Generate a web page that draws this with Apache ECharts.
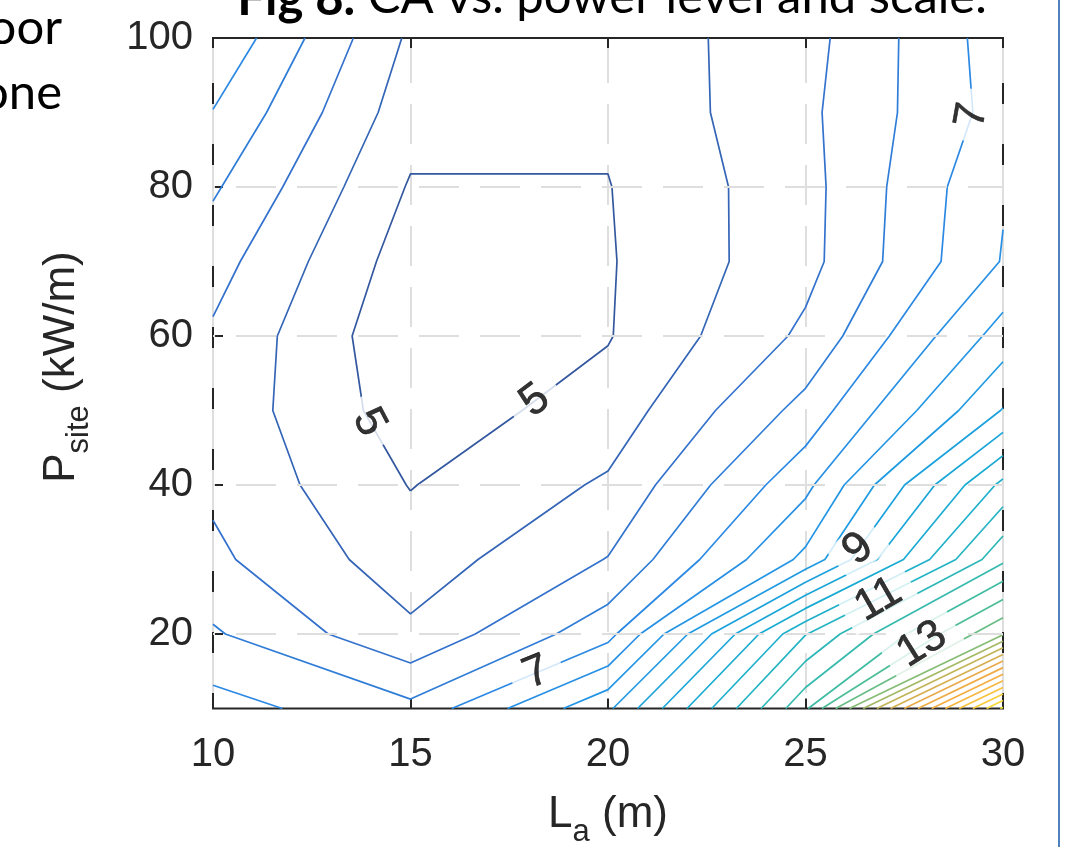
<!DOCTYPE html>
<html>
<head>
<meta charset="utf-8">
<title>CA vs. power level and scale</title>
<script src="https://cdn.jsdelivr.net/npm/echarts@6.0.0/dist/echarts.min.js"></script>
<style>
html,body{margin:0;padding:0;background:#ffffff;}
#chart{width:1071px;height:847px;}
</style>
</head>
<body>
<div id="chart"></div>
<script>
// ---------------- data ----------------
const L_values = [10, 15, 20, 25, 30];                       // L_a (m) grid
const P_values = [10, 20, 30, 40, 50, 60, 70, 80, 90, 100];  // P_site (kW/m) grid
// CA at each grid node, one row per power level, columns follow L_values
const CA_P10  = [7.20, 6.63, 8.40, 12.40, 19.60];
const CA_P20  = [6.56, 5.60, 6.82, 10.98, 13.95];
const CA_P30  = [6.10, 5.23, 6.02, 8.13, 11.90];
const CA_P40  = [5.91, 4.98, 5.57, 7.36, 10.63];
const CA_P50  = [5.83, 4.74, 5.20, 6.67, 9.03];
const CA_P60  = [5.93, 4.61, 4.97, 6.10, 8.22];
const CA_P70  = [6.20, 4.75, 4.96, 5.84, 7.53];
const CA_P80  = [6.57, 4.955, 4.983, 5.83, 7.46];
const CA_P90  = [6.98, 5.21, 5.08, 5.89, 7.20];
const CA_P100 = [7.45, 5.41, 5.17, 5.82, 7.26];
const contourLevels = [5, 5.5, 6, 6.5, 7, 7.5, 8, 8.5, 9, 9.5, 10, 10.5, 11, 11.5, 12,
                       12.5, 13, 13.5, 14, 14.5, 15, 15.5, 16, 16.5, 17, 17.5, 18, 18.5,
                       19, 19.5];
// [level, L, P, rotation] of the inline contour labels
const contourLabels = [
  [5, 13.95, 48.4, -62],
  [5, 18.15, 51.3, 37],
  [7, 29.22, 89.6, 80],
  [7, 18.19, 14.8, 22],
  [9, 26.34, 31.4, 40],
  [11, 26.85, 24.6, 30],
  [13, 27.95, 18.6, 32]
];
const xTicks = [10, 15, 20, 25, 30];
const yTicks = [20, 40, 60, 80, 100];

// ---------------- styling helpers ----------------
const colorStops = [[5,'#34589f'],[6,'#3472cd'],[7,'#2b88e3'],[8,'#2395e5'],[9,'#1ca1dd'],[10,'#19abd2'],
  [11,'#25b4c3'],[12,'#36baae'],[13,'#4bbd98'],[14,'#86bc74'],[15,'#c2b457'],[16,'#e9aa4a'],
  [17,'#f4ae42'],[18,'#f7c23d'],[19,'#f8d839'],[19.5,'#f6e337']];
function hex2rgb(h){ return [parseInt(h.substr(1,2),16), parseInt(h.substr(3,2),16), parseInt(h.substr(5,2),16)]; }
function levelColor(v){
  if (v <= colorStops[0][0]) return colorStops[0][1];
  for (let k = 0; k < colorStops.length - 1; k++) {
    const a = colorStops[k], b = colorStops[k+1];
    if (v <= b[0]) {
      const t = (v - a[0]) / (b[0] - a[0]);
      const ca = hex2rgb(a[1]), cb = hex2rgb(b[1]);
      const c = ca.map((x, i) => Math.round(x + (cb[i] - x) * t));
      return 'rgb(' + c.join(',') + ')';
    }
  }
  return colorStops[colorStops.length-1][1];
}

// ---------------- contour tracing (marching squares on the grid) ----------------
const zRows = [CA_P10, CA_P20, CA_P30, CA_P40, CA_P50, CA_P60, CA_P70, CA_P80, CA_P90, CA_P100];
function contourPaths(level){
  const nx = L_values.length, ny = P_values.length;
  const pt = {}, segs = [];
  const above = z => z > level;
  for (let j = 0; j < ny - 1; j++) {
    for (let i = 0; i < nx - 1; i++) {
      const z00 = zRows[j][i], z10 = zRows[j][i+1], z01 = zRows[j+1][i], z11 = zRows[j+1][i+1];
      const e = {};
      if (above(z00) !== above(z10)) { const k = 'h'+j+'_'+i; pt[k] = [L_values[i] + (level-z00)/(z10-z00)*(L_values[i+1]-L_values[i]), P_values[j]]; e.b = k; }
      if (above(z10) !== above(z11)) { const k = 'v'+(i+1)+'_'+j; pt[k] = [L_values[i+1], P_values[j] + (level-z10)/(z11-z10)*(P_values[j+1]-P_values[j])]; e.r = k; }
      if (above(z01) !== above(z11)) { const k = 'h'+(j+1)+'_'+i; pt[k] = [L_values[i] + (level-z01)/(z11-z01)*(L_values[i+1]-L_values[i]), P_values[j+1]]; e.t = k; }
      if (above(z00) !== above(z01)) { const k = 'v'+i+'_'+j; pt[k] = [L_values[i], P_values[j] + (level-z00)/(z01-z00)*(P_values[j+1]-P_values[j])]; e.l = k; }
      const ks = Object.keys(e);
      if (ks.length === 2) segs.push([e[ks[0]], e[ks[1]]]);
      else if (ks.length === 4) {
        const c = (z00 + z10 + z01 + z11) / 4;
        if (above(c) === above(z00)) { segs.push([e.b, e.r]); segs.push([e.t, e.l]); }
        else { segs.push([e.b, e.l]); segs.push([e.r, e.t]); }
      }
    }
  }
  const adj = {};
  segs.forEach((s, idx) => s.forEach(k => { (adj[k] = adj[k] || []).push(idx); }));
  const used = new Array(segs.length).fill(false);
  const paths = [];
  function walk(startIdx, startKey){
    const path = [startKey];
    let idx = startIdx, key = startKey;
    while (idx !== undefined && !used[idx]) {
      used[idx] = true;
      const s = segs[idx];
      const next = s[0] === key ? s[1] : s[0];
      path.push(next);
      key = next;
      idx = (adj[key] || []).find(n => !used[n]);
    }
    return path;
  }
  Object.keys(adj).forEach(k => { if (adj[k].length === 1 && !used[adj[k][0]]) paths.push(walk(adj[k][0], k)); });
  segs.forEach((s, idx) => { if (!used[idx]) paths.push(walk(idx, s[0])); });
  return paths.map(p => p.map(k => pt[k]));
}

// ---------------- series ----------------
const series = [];
// horizontal dashed grid lines at the y ticks
series.push({
  type: 'line', name: 'grid', data: [], z: 1, silent: true, animation: false,
  markLine: {
    silent: true, animation: false, symbol: ['none', 'none'], label: {show: false},
    lineStyle: {color: '#dedede', width: 2, type: [40, 21], dashOffset: 38},
    emphasis: {disabled: true},
    data: yTicks.filter(v => v < 100).map(v => ({yAxis: v}))
  }
});
contourLevels.forEach(level => {
  const col = levelColor(level);
  contourPaths(level).forEach(path => {
    series.push({
      type: 'line', data: path, showSymbol: false, symbol: 'none', z: 3, silent: true, animation: false,
      lineStyle: {color: col, width: 1.7}, xAxisIndex: 0, yAxisIndex: 0
    });
  });
});
series.push({
  type: 'scatter', z: 6, silent: true, animation: false, symbolSize: 1,
  itemStyle: {color: 'rgba(0,0,0,0)'},
  label: {show: true, position: 'inside', fontSize: 44, fontFamily: 'Liberation Sans', color: '#000000',
          textBorderColor: '#000000', textBorderWidth: 0.6,
          backgroundColor: '#ffffff', padding: [-2, 14]},
  data: contourLabels.map(([lv, L, P, rot]) => ({value: [L, P], label: {rotate: rot, formatter: String(lv), color: '#000000', fontSize: 44}}))
});

// ---------------- text measuring for titles ----------------
const mctx = document.createElement('canvas').getContext('2d');
function tw(t, font){ mctx.font = font; return mctx.measureText(t).width; }
const FONT_AX = '"Liberation Sans"';
const wTitleB = tw('Fig 8.', 'bold 49px Lato');
const wTitleN = tw(' CA vs. power level and scale.', '49px Lato');
const titleLeft = 612 - (wTitleB + wTitleN) / 2;

const wP = tw('P', '44px ' + FONT_AX), wSite = tw('site', '31px ' + FONT_AX), wKW = tw(' (kW/m)', '44px ' + FONT_AX);
const y0 = -(wP + wSite + wKW) / 2;
const wL = tw('L', '44px ' + FONT_AX), wA = tw('a', '31px ' + FONT_AX), wM = tw(' (m)', '44px ' + FONT_AX);
const x0 = 608 - (wL + wA + wM) / 2;

const axText = (txt, size) => ({text: txt, fontSize: size, fontFamily: 'Liberation Sans', fill: '#262626', align: 'left', verticalAlign: 'middle'});

const option = {
  animation: false,
  backgroundColor: '#ffffff',
  grid: {left: 213, top: 38, width: 790, height: 670.5, show: true, borderColor: '#262626', borderWidth: 2,
         backgroundColor: 'rgba(0,0,0,0)'},
  xAxis: [
    {type: 'value', min: 10, max: 30, interval: 5, position: 'bottom',
     axisLine: {show: false},
     axisTick: {show: true, inside: true, length: 10, lineStyle: {color: '#262626', width: 2}},
     axisLabel: {margin: 26, fontSize: 40, fontFamily: 'Liberation Sans', color: '#262626'},
     splitLine: {show: true, lineStyle: {color: '#dedede', width: 2, type: [40, 21], dashOffset: 56}}},
    {type: 'value', min: 10, max: 30, interval: 5, position: 'top',
     axisLine: {show: false},
     axisTick: {show: true, inside: true, length: 10, lineStyle: {color: '#262626', width: 2}},
     axisLabel: {show: false}, splitLine: {show: false}}
  ],
  yAxis: [
    {type: 'value', min: 10, max: 100, position: 'left',
     axisLine: {show: false},
     axisTick: {show: true, inside: true, length: 10, customValues: yTicks, lineStyle: {color: '#262626', width: 2}},
     axisLabel: {show: true, customValues: yTicks, margin: 20, fontSize: 40, fontFamily: 'Liberation Sans', color: '#262626',
                 formatter: v => (yTicks.indexOf(v) >= 0 ? String(v) : '')},
     splitLine: {show: false}},
    {type: 'value', min: 10, max: 100, position: 'right',
     axisLine: {show: false},
     axisTick: {show: true, inside: true, length: 10, customValues: yTicks, lineStyle: {color: '#262626', width: 2}},
     axisLabel: {show: false}, splitLine: {show: false}}
  ],
  graphic: [
    {type: 'text', x: titleLeft, y: -1, z: 10, style: {text: 'Fig 8.', fontSize: 49, fontFamily: 'Lato', fontWeight: 'bold', fill: '#000', align: 'left', verticalAlign: 'middle'}},
    {type: 'text', x: titleLeft + wTitleB, y: -3, z: 10, style: {text: ' CA vs. power level and scale.', fontSize: 49, fontFamily: 'Lato', fill: '#000', align: 'left', verticalAlign: 'middle'}},
    {type: 'text', x: 62, y: 28, z: 10, style: {text: 'oor', fontSize: 49, fontFamily: 'Lato', fill: '#000', align: 'right', verticalAlign: 'middle'}},
    {type: 'text', x: 62, y: 93, z: 10, style: {text: 'one', fontSize: 49, fontFamily: 'Lato', fill: '#000', align: 'right', verticalAlign: 'middle'}},
    {type: 'group', x: 62, y: 367, rotation: Math.PI / 2, z: 10, children: [
      {type: 'text', x: y0, y: 0, style: axText('P', 44)},
      {type: 'text', x: y0 + wP, y: 17, style: axText('site', 31)},
      {type: 'text', x: y0 + wP + wSite, y: 0, style: axText(' (kW/m)', 44)}
    ]},
    {type: 'text', x: x0, y: 815, z: 10, style: axText('L', 44)},
    {type: 'text', x: x0 + wL, y: 832, z: 10, style: axText('a', 31)},
    {type: 'text', x: x0 + wL + wA, y: 815, z: 10, style: axText(' (m)', 44)},
    {type: 'line', z: 10, shape: {x1: 1059, y1: 0, x2: 1059, y2: 847}, style: {stroke: '#4f81bd', lineWidth: 2}}
  ],
  series: series
};

const chart = echarts.init(document.getElementById('chart'), null, {renderer: 'canvas'});
chart.setOption(option);
</script>
</body>
</html>
